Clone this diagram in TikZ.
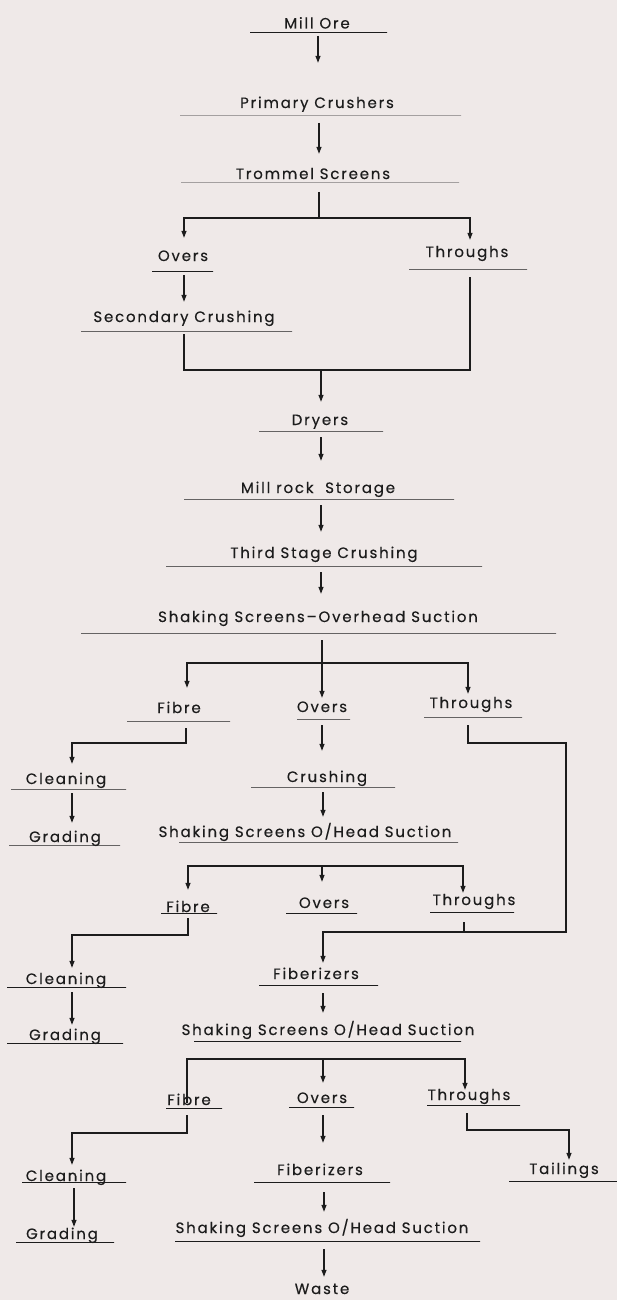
\documentclass[tikz,border=0pt]{standalone}
\usepackage{fontspec}
\setmainfont{Poppins}[LetterSpace=12,FakeBold=0.3]
\usetikzlibrary{arrows.meta}
\definecolor{bg}{HTML}{EFE9E8}
\definecolor{ink}{HTML}{1C1C1C}
\tikzset{
  lbl/.style={anchor=base, inner sep=0pt, text height=10pt, text depth=3pt,
              font=\fontsize{15}{17}\selectfont, text=ink},
  ul/.style={draw=ink, line width=1pt, minimum height=0pt, inner sep=0pt, outer sep=0pt},
  conn/.style={draw=ink, line width=1.2pt},
  arr/.style={conn, -{Triangle[length=7pt,width=5pt]}},
}
\begin{document}
\begin{tikzpicture}[x=1pt,y=-1pt]
\fill[bg] (0,0) rectangle (617,1300);
\useasboundingbox (0,0) rectangle (617,1300);

% ---------- stages (text + underline) ----------
\node[lbl] (ore)   at (317,28.5) {Mill Ore};
\node[ul,minimum width=137pt] (uore) at (318.5,32.5) {};
\node[lbl] (prim)  at (317,108) {Primary Crushers};
\node[ul,minimum width=281pt] (uprim) at (320.5,116) {};
\node[lbl] (trom)  at (313,179) {Trommel Screens};
\node[ul,minimum width=278pt] (utrom) at (320,183) {};
\node[lbl] (ov1)   at (183,261) {Overs};
\node[ul,minimum width=61pt] (uov1) at (182.5,271.5) {};
\node[lbl] (thr1)  at (467,257) {Throughs};
\node[ul,minimum width=118pt] (uthr1) at (468,269) {};
\node[lbl] (sec)   at (184,322) {Secondary Crushing};
\node[ul,minimum width=211pt] (usec) at (186.5,331) {};
\node[lbl] (dry)   at (320,425) {Dryers};
\node[ul,minimum width=124pt] (udry) at (321,431) {};
\node[lbl] (mill)  at (318,493) {Mill rock~ Storage};
\node[ul,minimum width=270pt] (umill) at (319,499) {};
\node[lbl] (third) at (324,558) {Third Stage Crushing};
\node[ul,minimum width=316pt] (uthird) at (324,566) {};
\node[lbl] (sh1)   at (318,622) {Shaking Screens–Overhead Suction};
\node[ul,minimum width=475pt] (ush1) at (318.5,633) {};

\node[lbl] (fib1)  at (179,713) {Fibre};
\node[ul,minimum width=103pt] (ufib1) at (178.5,721) {};
\node[lbl] (ov2)   at (322,712) {Overs};
\node[ul,minimum width=53pt] (uov2) at (323.5,719) {};
\node[lbl] (thr2)  at (471,708) {Throughs};
\node[ul,minimum width=98pt] (uthr2) at (473,717) {};
\node[lbl] (cl1)   at (66,784) {Cleaning};
\node[ul,minimum width=115pt] (ucl1) at (68.5,789) {};
\node[lbl] (gr1)   at (65,842) {Grading};
\node[ul,minimum width=111pt] (ugr1) at (64.5,845) {};
\node[lbl] (cr2)   at (327,782) {Crushing};
\node[ul,minimum width=144pt] (ucr2) at (323,787) {};
\node[lbl] (sh2)   at (305,837) {Shaking Screens O/Head Suction};
\node[ul,minimum width=279pt] (ush2) at (318.5,842) {};

\node[lbl] (fib2)  at (188,912) {Fibre};
\node[ul,minimum width=56pt] (ufib2) at (189,913) {};
\node[lbl] (ov3)   at (324,908) {Overs};
\node[ul,minimum width=71pt] (uov3) at (321.5,913) {};
\node[lbl] (thr3)  at (474,905) {Throughs};
\node[ul,minimum width=84pt] (uthr3) at (472,912) {};
\node[lbl] (cl2)   at (66,984) {Cleaning};
\node[ul,minimum width=119pt] (ucl2) at (66.5,987) {};
\node[lbl] (gr2)   at (65,1040) {Grading};
\node[ul,minimum width=116pt] (ugr2) at (65,1043) {};
\node[lbl] (fz1)   at (316,979) {Fiberizers};
\node[ul,minimum width=119pt] (ufz1) at (318.5,985) {};
\node[lbl] (sh3)   at (328,1035) {Shaking Screens O/Head Suction};
\node[ul,minimum width=267pt] (ush3) at (327.5,1041) {};

\node[lbl] (fib3)  at (189,1105) {Fibre};
\node[ul,minimum width=56pt] (ufib3) at (194,1108) {};
\node[lbl] (ov4)   at (322,1103) {Overs};
\node[ul,minimum width=65pt] (uov4) at (321.5,1107) {};
\node[lbl] (thr4)  at (469,1100) {Throughs};
\node[ul,minimum width=93pt] (uthr4) at (473.5,1105) {};
\node[lbl] (tail)  at (564,1174) {Tailings};
\node[ul,minimum width=108pt] (utail) at (563,1181) {};
\node[lbl] (cl3)   at (66,1181) {Cleaning};
\node[ul,minimum width=104pt] (ucl3) at (74,1182) {};
\node[lbl] (fz2)   at (320,1175) {Fiberizers};
\node[ul,minimum width=136pt] (ufz2) at (322,1182) {};
\node[lbl] (gr3)   at (62,1239) {Grading};
\node[ul,minimum width=98pt] (ugr3) at (65,1242) {};
\node[lbl] (sh4)   at (322,1233) {Shaking Screens O/Head Suction};
\node[ul,minimum width=305pt] (ush4) at (327.5,1241) {};
\node[lbl] (waste) at (322,1294) {Waste};

% ---------- junction points ----------
\coordinate (j1) at (319,218);
\coordinate (j2) at (321,370);
\coordinate (j3) at (322,663);
\coordinate (j5) at (566,743);
\coordinate (j6) at (323,932);
\coordinate (j7) at (322,866);
\coordinate (j8) at (323,1059);

% ---------- connectors ----------
\draw[arr] ([xshift=-0.5pt,yshift=-3.5pt]uore.center) -- ([xshift=1pt,yshift=35pt]prim.north);
\draw[arr] ([xshift=-1.5pt,yshift=-7pt]uprim.center) -- ([xshift=6pt,yshift=15pt]trom.north);
\draw[conn] ([xshift=-1pt,yshift=-9pt]utrom.center) -- (j1);
\draw[arr] (j1) -| ([xshift=1pt,yshift=13pt]ov1.north);
\draw[arr] (j1) -| ([xshift=3pt,yshift=7pt]thr1.north);
\draw[arr] ([xshift=1.5pt,yshift=-3.5pt]uov1.center) -- ([yshift=10pt]sec.north);
\draw[conn] ([xshift=-2.5pt,yshift=-3pt]usec.center) |- (j2) -| ([xshift=2pt,yshift=-8pt]uthr1.center);
\draw[arr] (j2) -- ([xshift=1pt,yshift=13pt]dry.north);
\draw[arr] ([yshift=-6pt]udry.center) -- ([xshift=3pt,yshift=22pt]mill.north);
\draw[arr] ([xshift=2pt,yshift=-6pt]umill.center) -- ([xshift=-3pt,yshift=16pt]third.north);
\draw[arr] ([xshift=-3pt,yshift=-6pt]uthird.center) -- ([xshift=3pt,yshift=18pt]sh1.north);
\draw[conn] ([xshift=3.5pt,yshift=-7pt]ush1.center) -- (j3);
\draw[arr] (j3) -| ([xshift=8pt,yshift=15pt]fib1.north);
\draw[arr] (j3) -- ([yshift=4pt]ov2.north);
\draw[arr] (j3) -| ([xshift=-3pt,yshift=4pt]thr2.north);
\draw[arr] ([xshift=7.5pt,yshift=-7pt]ufib1.center) -- ++(0,15) -| ([xshift=6pt,yshift=10pt]cl1.north);
\draw[arr] ([xshift=-1.5pt,yshift=-6pt]uov2.center) -- ([xshift=-5pt,yshift=21pt]cr2.north);
\draw[arr] ([xshift=-5pt,yshift=-8pt]uthr2.center) |- (j5) |- (j6) -- ([xshift=7pt,yshift=6pt]fz1.north);
\draw[conn] ([xshift=-8pt,yshift=-10pt]uthr3.center) -- ++(0,10);
\draw[arr] ([xshift=3.5pt,yshift=-4pt]ucl1.center) -- ([xshift=7pt,yshift=9pt]gr1.north);
\draw[arr] ([yshift=-5pt]ucr2.center) -- ([xshift=18pt,yshift=10pt]sh2.north);
\draw[arr] (j7) -| ([yshift=12pt]fib2.north);
\draw[arr] (j7) -- ([xshift=-2pt,yshift=16pt]ov3.north);
\draw[arr] (j7) -| ([xshift=-11pt,yshift=2pt]thr3.north);
\draw[arr] ([xshift=-1pt,yshift=-5pt]ufib2.center) -- ++(0,17) -| ([xshift=6pt,yshift=6pt]cl2.north);
\draw[arr] ([xshift=5.5pt,yshift=-5pt]ucl2.center) -- ([xshift=7pt,yshift=5pt]gr2.north);
\draw[arr] ([xshift=4.5pt,yshift=-8pt]ufz1.center) -- ([xshift=-5pt,yshift=12pt]sh3.north);
\draw[conn] (j8) -| ([xshift=-2pt,yshift=-8pt]fib3.north);
\draw[arr] (j8) -- ([xshift=1pt,yshift=10pt]ov4.north);
\draw[arr] (j8) -| ([xshift=-4pt,yshift=0pt]thr4.north);
\draw[arr] ([xshift=-7pt,yshift=-7pt]ufib3.center) -- ++(0,18) -| ([xshift=6pt,yshift=6pt]cl3.north);
\draw[arr] ([xshift=1.5pt,yshift=-8pt]uov4.center) -- ([xshift=3pt,yshift=22pt]fz2.north);
\draw[arr] ([xshift=-6.5pt,yshift=-8pt]uthr4.center) -- ++(0,17) -| ([xshift=5pt,yshift=4pt]tail.north);
\draw[arr] ([yshift=-6pt]ucl3.center) -- ([xshift=12pt,yshift=2pt]gr3.north);
\draw[arr] ([xshift=2pt,yshift=-10pt]ufz2.center) -- ([xshift=2pt,yshift=11pt]sh4.north);
\draw[arr] ([xshift=-3.5pt,yshift=-8pt]ush4.center) -- ([xshift=2pt,yshift=7pt]waste.north);
\end{tikzpicture}
\end{document}
